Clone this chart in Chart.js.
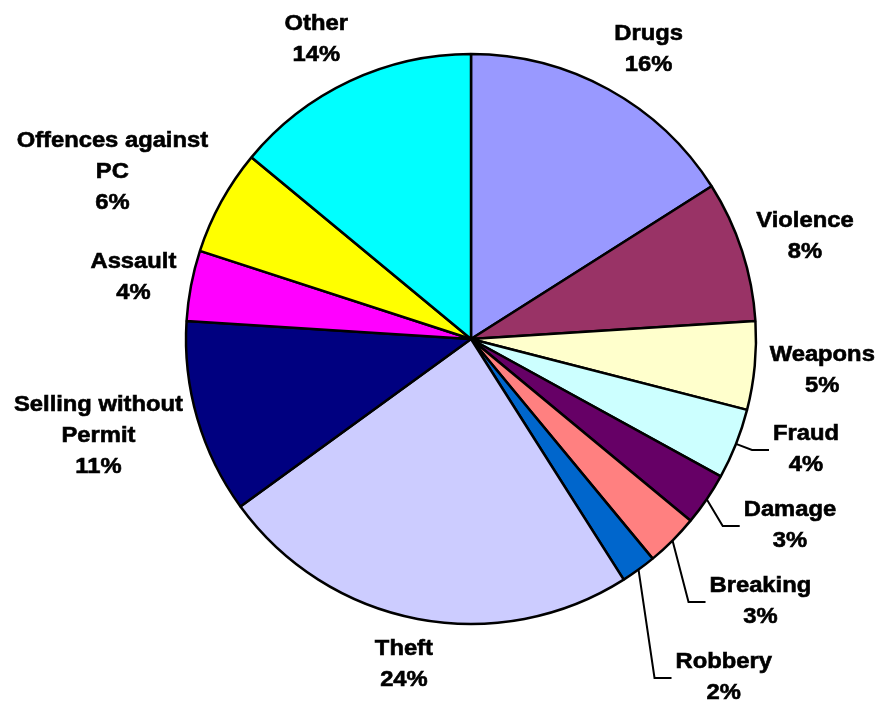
<!DOCTYPE html>
<html>
<head>
<meta charset="utf-8">
<script src="https://cdn.jsdelivr.net/npm/chart.js@4.4.1/dist/chart.umd.min.js"></script>
<style>
  html, body { margin: 0; padding: 0; background: #ffffff; }
  #wrap { width: 878px; height: 705px; }
</style>
</head>
<body>
<div id="wrap"><canvas id="c" width="878" height="705"></canvas></div>
<script>
// Offence categories, clockwise from 12 o'clock
const categories = [
  'Drugs', 'Violence', 'Weapons', 'Fraud', 'Damage', 'Breaking', 'Robbery',
  'Theft', ['Selling without', 'Permit'], 'Assault', ['Offences against', 'PC'], 'Other'
];
// Share of all offences, in percent
const shares = [16, 8, 5, 4, 3, 3, 2, 24, 11, 4, 6, 14];

const sliceColors = [
  '#9999FF', '#993366', '#FFFFCC', '#CCFFFF', '#660066', '#FF8080', '#0066CC',
  '#CCCCFF', '#000080', '#FF00FF', '#FFFF00', '#00FFFF'
];

const FONT = 'bold 22px "Liberation Sans", Arial, sans-serif';
const LINE_H = 31;
const STRETCH = 1.08;

// Draws "name / n%" labels round the pie; thin slices in the lower right
// get stacked labels joined to their slice by a leader line.
const sliceLabels = {
  id: 'sliceLabels',
  afterDatasetsDraw(chart) {
    const ctx = chart.ctx;
    const meta = chart.getDatasetMeta(0);
    const total = shares.reduce((a, b) => a + b, 0);
    ctx.save();
    ctx.font = FONT;
    ctx.fillStyle = '#000';
    ctx.textAlign = 'center';
    ctx.textBaseline = 'middle';
    let prevLeaderY = -Infinity;
    meta.data.forEach((arc, i) => {
      const lines = [].concat(categories[i], shares[i] + '%');
      const w = Math.max(...lines.map(t => ctx.measureText(t).width)) * STRETCH;
      const h = lines.length * LINE_H;
      const mid = (arc.startAngle + arc.endAngle) / 2;
      const c = Math.cos(mid), s = Math.sin(mid);
      const R = arc.outerRadius;
      let bx, by;
      const needsLeader = shares[i] / total <= 0.04 && c > 0 && s > 0;
      if (needsLeader) {
        const ax = arc.x + c * R, ay = arc.y + s * R;
        const ly = Math.max(ay + 6, prevLeaderY + 76);
        prevLeaderY = ly;
        const ex = ax + 16;
        ctx.strokeStyle = '#000';
        ctx.lineWidth = 2;
        ctx.beginPath();
        ctx.moveTo(ax, ay);
        ctx.lineTo(ex, ly);
        ctx.lineTo(ex + 17, ly);
        ctx.stroke();
        bx = ex + 21 + w / 2;
        by = ly;
      } else {
        const px = arc.x + c * (R + 15), py = arc.y + s * (R + 15);
        bx = px + Math.max(-1, Math.min(1, 2 * c)) * w / 2;
        by = py + s * h / 2;
      }
      lines.forEach((t, k) => {
        const y = by - h / 2 + LINE_H * (k + 0.5);
        ctx.save();
        ctx.translate(bx, y);
        ctx.scale(STRETCH, 1);
        ctx.strokeStyle = '#000';
        ctx.lineWidth = 0.6;
        ctx.fillText(t, 0, 0);
        ctx.strokeText(t, 0, 0);
        ctx.restore();
      });
    });
    ctx.restore();
  }
};

new Chart(document.getElementById('c'), {
  type: 'pie',
  data: {
    labels: categories,
    datasets: [{
      data: shares,
      backgroundColor: sliceColors,
      borderColor: '#000000',
      borderWidth: 2.5,
      radius: 285
    }]
  },
  options: {
    responsive: false,
    animation: false,
    radius: 285,
    layout: { padding: { left: 64, right: 0, top: 0, bottom: 27 } },
    plugins: {
      legend: { display: false },
      tooltip: { enabled: false }
    }
  },
  plugins: [sliceLabels]
});
</script>
</body>
</html>
